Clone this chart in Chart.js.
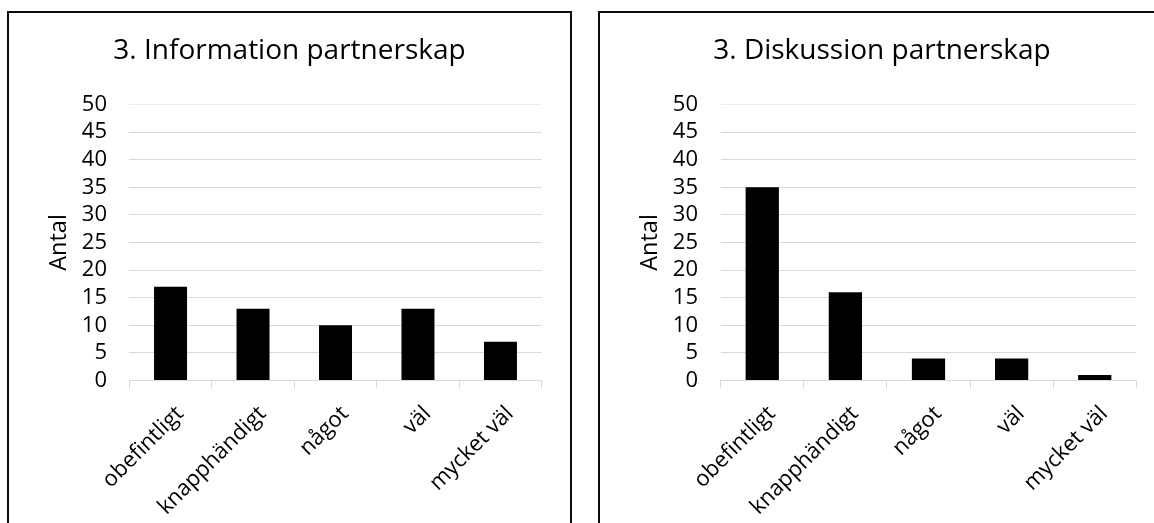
<!DOCTYPE html>
<html>
<head>
<meta charset="utf-8">
<script src="https://cdn.jsdelivr.net/npm/chart.js@4.4.1/dist/chart.umd.min.js"></script>
<style>
  html, body { margin: 0; padding: 0; background: #fff; width: 1154px; height: 523px; overflow: hidden; position: relative; }
  canvas { position: absolute; top: 0; }
  .frame { position: absolute; top: 11px; width: 565px; height: 540px; box-sizing: border-box;
           border: 2px solid #0d0d0d; pointer-events: none; }
</style>
</head>
<body>
<div class="frame" style="left:7px"></div>
<div class="frame" style="left:598px"></div>
<canvas id="infoChart" width="580" height="523" style="left:0"></canvas>
<canvas id="diskChart" width="563" height="523" style="left:591px"></canvas>
<script>
// Response categories shared by both questions
const categories = ['obefintligt', 'knapphändigt', 'något', 'väl', 'mycket väl'];

// Number of answers per category
const informationValues = [17, 13, 10, 13, 7];
const diskussionValues = [35, 16, 4, 4, 1];

// Value axis tick labels
const yTickValues = [0, 5, 10, 15, 20, 25, 30, 35, 40, 45, 50];

const FONT = "'Open Sans', 'Noto Sans', sans-serif";
const GRID = '#d9d9d9';
const TICK_SIZE = 22;

function buildChart(canvasId, titleText, values, g) {
  const yMin = yTickValues[0];
  const yMax = yTickValues[yTickValues.length - 1];
  const yStep = yTickValues[1] - yTickValues[0];
  return new Chart(document.getElementById(canvasId), {
    type: 'bar',
    data: {
      labels: categories,
      datasets: [{
        data: values,
        backgroundColor: '#000',
        borderWidth: 0,
        barPercentage: 0.4,
        categoryPercentage: 1.0
      }]
    },
    options: {
      responsive: false,
      animation: false,
      devicePixelRatio: 1,
      layout: { padding: { top: 0, left: g.padLeft, right: g.padRight, bottom: 0 } },
      plugins: {
        legend: { display: false },
        tooltip: { enabled: false },
        title: {
          display: true,
          text: titleText,
          color: '#000',
          font: { family: FONT, size: 28, weight: 'normal', lineHeight: 1.2 },
          padding: { top: 34.5, bottom: 36.4 }
        }
      },
      scales: {
        x: {
          offset: true,
          grid: { display: true, drawOnChartArea: false, drawTicks: true, tickLength: 8, offset: true, color: GRID, lineWidth: 1 },
          border: { display: true, color: GRID, width: 1 },
          ticks: {
            color: '#000',
            font: { family: FONT, size: TICK_SIZE },
            maxRotation: 45, minRotation: 45,
            autoSkip: false,
            padding: 12.5,
            labelOffset: 9.5
          },
          afterFit(scale) { scale.height = 523 - 380.5; }
        },
        y: {
          min: yMin, max: yMax,
          grid: {
            drawTicks: false,
            color: (ctx) => (ctx.tick && ctx.tick.value === yMax) ? '#ececec' : GRID,
            lineWidth: 1
          },
          border: { display: false },
          ticks: {
            stepSize: yStep,
            autoSkip: false,
            color: '#000',
            font: { family: FONT, size: TICK_SIZE },
            padding: g.tickPad
          },
          title: {
            display: true,
            text: 'Antal',
            color: '#000',
            font: { family: FONT, size: 23.5, lineHeight: 1.2 },
            padding: { top: g.titlePadTop, bottom: 0 }
          },
          afterFit(scale) { scale.width = g.yWidth; }
        }
      }
    }
  });
}

buildChart('infoChart', '3. Information partnerskap', informationValues,
  { padLeft: 37.3, padRight: 38.3, yWidth: 92, tickPad: 22.3, titlePadTop: 7.9 });
buildChart('diskChart', '3. Diskussion partnerskap', diskussionValues,
  { padLeft: 36.7, padRight: 17.7, yWidth: 93, tickPad: 22.7, titlePadTop: 8.5 });
</script>
</body>
</html>
